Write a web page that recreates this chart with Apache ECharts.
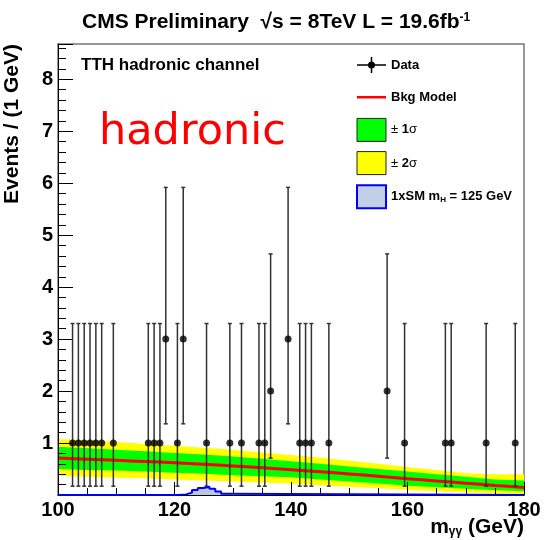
<!DOCTYPE html>
<html><head><meta charset="utf-8">
<script src="https://cdn.jsdelivr.net/npm/echarts@6/dist/echarts.min.js"></script>
<style>html,body{margin:0;padding:0;background:#fff}#c{width:547px;height:540px}</style>
</head><body><div id="c"></div>
<script>
// ---- data ----
const massBins = [102.5,103.5,104.5,105.5,106.5,107.5,109.5,115.5,116.5,117.5,118.5,120.5,121.5,125.5,129.5,131.5,134.5,135.5,136.5,139.5,141.5,142.5,143.5,146.5,156.5,159.5,166.5,167.5,173.5,178.5];
const counts   = [1,1,1,1,1,1,1,1,1,1,3,1,3,1,1,1,1,1,2,3,1,1,1,1,2,1,1,1,1,1];
const errLowByCount  = {1:0.17, 2:0.71, 3:1.37};
const errHighByCount = {1:3.30, 2:4.64, 3:5.92};

const bkgMass  = [100,105,110,115,120,125,130,135,140,145,150,155,160,165,170,175,180];
const bkgModel = [0.71,0.69,0.668,0.645,0.62,0.592,0.56,0.525,0.488,0.447,0.405,0.36,0.315,0.27,0.228,0.185,0.145];
const band1Up  = [0.93,0.90,0.87,0.84,0.81,0.78,0.74,0.70,0.65,0.60,0.55,0.50,0.45,0.40,0.35,0.30,0.28];
const band1Lo  = [0.50,0.48,0.47,0.45,0.43,0.41,0.38,0.36,0.34,0.30,0.26,0.22,0.18,0.15,0.12,0.09,0.07];
const band2Up  = [1.08,1.05,1.02,0.98,0.95,0.91,0.87,0.82,0.77,0.72,0.66,0.60,0.54,0.48,0.42,0.40,0.40];
const band2Lo  = [0.37,0.35,0.33,0.32,0.30,0.28,0.26,0.24,0.22,0.19,0.16,0.13,0.10,0.07,0.05,0.03,0.02];

const sigEdges   = [120,121,122,123,124,125,126,127,128,129];
const sigHeights = [0.005,0.012,0.045,0.095,0.135,0.16,0.12,0.065,0.025];

const legendNames = ['Data','Bkg Model','± 1σ','± 2σ','1xSM mH = 125 GeV'];

// ---- build ----
const FONT = '"Liberation Sans", Arial, Helvetica, sans-serif';
const pts = (ys) => bkgMass.map((m,i)=>[m, ys[i]]);
const sigData = [[100,0]];
sigHeights.forEach((h,i)=>sigData.push([sigEdges[i], h]));
sigData.push([sigEdges[sigEdges.length-1], 0]);
sigData.push([180,0]);
const errData = massBins.map((m,i)=>[m, errLowByCount[counts[i]], errHighByCount[counts[i]]]);
const ptData = massBins.map((m,i)=>[m, counts[i]]);

function bandSeries(name, lo, hi, color){
  return {type:'custom', name:name, z:2, silent:true,
    data: bkgMass.map((m,i)=>[m, lo[i], hi[i]]),
    encode:{x:0, y:[1,2]},
    itemStyle:{color:color},
    renderItem:function(params, api){
      if(params.dataIndex !== 0) return null;
      const top = bkgMass.map((m,i)=>api.coord([m, hi[i]]));
      const bot = bkgMass.map((m,i)=>api.coord([m, lo[i]])).reverse();
      return {type:'polygon', shape:{points: top.concat(bot)}, style:{fill:color, stroke:null}};
    }};
}

const corner = ' M0,0h0.05v0.05h-0.05z M29,23h-0.05v-0.05h0.05z';
const chart = echarts.init(document.getElementById('c'), null, {renderer:'canvas'});
chart.setOption({
  animation:false,
  backgroundColor:'#fff',
  grid:{left:58, right:23, top:44, bottom:45, show:true, borderColor:'#777', borderWidth:1.5, backgroundColor:'transparent'},
  xAxis:{type:'value', min:100, max:180, interval:20, z:10,
    axisLine:{show:true, lineStyle:{color:'#000', width:1}},
    axisTick:{show:true, inside:true, length:13, lineStyle:{color:'#000', width:1}},
    minorTick:{show:true, splitNumber:4, length:7, lineStyle:{color:'#000', width:1}},
    axisLabel:{fontFamily:FONT, fontSize:20, fontWeight:'bold', color:'#000', margin:5},
    splitLine:{show:false}},
  yAxis:{type:'value', min:0, max:8.68, interval:1, z:10,
    axisLine:{show:true, lineStyle:{color:'#000', width:1}},
    axisTick:{show:true, inside:true, length:15, lineStyle:{color:'#000', width:1}},
    minorTick:{show:true, splitNumber:5, length:8, lineStyle:{color:'#000', width:1}},
    axisLabel:{fontFamily:FONT, fontSize:20, fontWeight:'bold', color:'#000', margin:5, showMinLabel:false, showMaxLabel:false},
    splitLine:{show:false}},
  legend:{orient:'vertical', left:356, top:53.5, padding:0, itemWidth:29, itemHeight:23, itemGap:9.2, selectedMode:false,
    textStyle:{fontFamily:FONT, fontSize:13, fontWeight:'bold', color:'#000',
      rich:{sym:{fontFamily:FONT, fontSize:13, fontWeight:'normal', color:'#000'},
            b:{fontFamily:FONT, fontSize:13, fontWeight:'bold', color:'#000'},
            sub:{fontFamily:FONT, fontSize:8, fontWeight:'bold', color:'#000', verticalAlign:'bottom', padding:[6,0,0,0]}}},
    formatter:function(n){
      if(n==='± 1σ') return '{sym|±} {b|1}{sym|σ}';
      if(n==='± 2σ') return '{sym|±} {b|2}{sym|σ}';
      if(n==='1xSM mH = 125 GeV') return '{b|1xSM m}{sub|H}{b| = 125 GeV}';
      return n;
    },
    data:[
      {name:legendNames[0], icon:'path://M0,10.75h29v1.5H0z M13.75,3.5h1.5v16h-1.5z M11,11.5a3.5,3.5 0 1 1 7,0a3.5,3.5 0 1 1 -7,0z'+corner, itemStyle:{color:'#000'}},
      {name:legendNames[1], icon:'path://M0,10.25h29v2.5H0z'+corner, itemStyle:{color:'#ff0000'}},
      {name:legendNames[2], icon:'rect', itemStyle:{color:'#00ff00', borderColor:'#222', borderWidth:1}},
      {name:legendNames[3], icon:'rect', itemStyle:{color:'#ffff00', borderColor:'#222', borderWidth:1}},
      {name:legendNames[4], icon:'rect', itemStyle:{color:'#c3cfe8', borderColor:'#0000ff', borderWidth:2}}
    ]},
  graphic:[
    {type:'text', x:82, y:22, style:{text:'CMS Preliminary  √s = 8TeV L = 19.6fb{sup|-1}', fontFamily:FONT, fontSize:21, fontWeight:'bold', fill:'#000', verticalAlign:'middle',
      rich:{sup:{fontFamily:FONT, fontSize:12, fontWeight:'bold', fill:'#000', verticalAlign:'top'}}}},
    {type:'text', x:81, y:65, style:{text:'TTH hadronic channel', fontFamily:FONT, fontSize:17, fontWeight:'bold', fill:'#000', verticalAlign:'middle'}},
    {type:'text', x:99, y:133, style:{text:'hadronic', fontFamily:'"DejaVu Sans", sans-serif', fontSize:43, fill:'#ff0000', verticalAlign:'middle'}},
    {type:'text', x:12, y:44, rotation:Math.PI/2, style:{text:'Events / (1 GeV)', fontFamily:FONT, fontSize:21, fontWeight:'bold', fill:'#000', align:'right', verticalAlign:'middle'}},
    {type:'text', x:524, y:527, style:{text:'m{sub|γγ} (GeV)', fontFamily:FONT, fontSize:21, fontWeight:'bold', fill:'#000', align:'right', verticalAlign:'middle',
      rich:{sub:{fontFamily:FONT, fontSize:12, fontWeight:'bold', fill:'#000', verticalAlign:'bottom'}}}}
  ],
  series:[
    bandSeries('± 2σ', band2Lo, band2Up, '#ffff00'),
    bandSeries('± 1σ', band1Lo, band1Up, '#00ff00'),
    {type:'line', name:'Bkg Model', data:pts(bkgModel), smooth:0.3, symbol:'none', lineStyle:{color:'#ff0000', width:3}, itemStyle:{color:'#ff0000'}, z:5},
    {type:'line', name:'1xSM mH = 125 GeV', data:sigData, step:'end', symbol:'none', clip:false,
      lineStyle:{color:'#0000ff', width:2}, itemStyle:{color:'#c3cfe8'}, areaStyle:{color:'#b9c7e3', opacity:1}, z:20},
    {type:'custom', name:'Data', data:errData, encode:{x:0, y:[1,2]}, z:11, clip:false,
      renderItem:function(params, api){
        const x = api.value(0);
        const lo = api.coord([x, api.value(1)]);
        const hi = api.coord([x, api.value(2)]);
        const st = {stroke:'#333', lineWidth:1.5};
        const w = 2;
        return {type:'group', children:[
          {type:'line', shape:{x1:lo[0], y1:lo[1], x2:hi[0], y2:hi[1]}, style:st},
          {type:'line', shape:{x1:hi[0]-w, y1:hi[1], x2:hi[0]+w, y2:hi[1]}, style:st},
          {type:'line', shape:{x1:lo[0]-w, y1:lo[1], x2:lo[0]+w, y2:lo[1]}, style:st}
        ]};
      }},
    {type:'scatter', name:'Data', data:ptData, symbol:'circle', symbolSize:7, itemStyle:{color:'#000'}, z:12}
  ]
});
</script></body></html>
